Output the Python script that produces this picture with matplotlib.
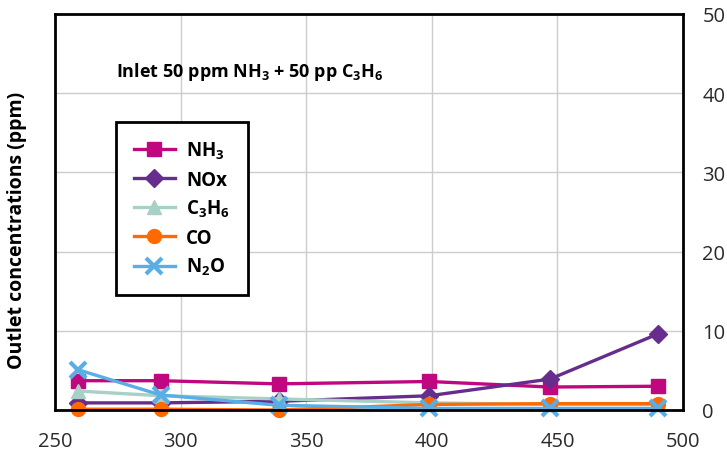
import matplotlib
matplotlib.use("Agg")
import matplotlib.pyplot as plt

plt.rcParams['font.family'] = ['Open Sans', 'DejaVu Sans']

# temperature points and outlet concentrations (ppm)
temps = [259, 292, 339, 399, 447, 490]
nh3 = [3.7, 3.7, 3.3, 3.6, 2.9, 3.0]
nox = [0.9, 0.9, 1.1, 1.8, 3.9, 9.6]
c3h6 = [2.4, 1.8, 1.4, 0.9, 0.7, 0.7]
co = [0.1, 0.1, 0.0, 0.7, 0.8, 0.8]
n2o = [5.1, 1.9, 0.6, 0.2, 0.2, 0.2]

series = [
    (nh3, r'$\mathregular{NH_3}$', '#C0077F', 's'),
    (nox, 'NOx', '#662D8C', 'D'),
    (c3h6, r'$\mathregular{C_3H_6}$', '#A8D0C6', '^'),
    (co, 'CO', '#FF6A00', 'o'),
    (n2o, r'$\mathregular{N_2O}$', '#5AAEE6', 'x'),
]

fig = plt.figure(figsize=(7.27, 4.52), dpi=100)
ax = fig.add_axes([55/727, 1-411/452, 628/727, 396/452])

for vals, lab, col, mk in series:
    ms = 10 if mk != 'x' else 11
    mew = 1 if mk != 'x' else 3
    if mk == 'D':
        ms = 9
    ax.plot(temps, vals, color=col, lw=2.4, marker=mk, ms=ms, mew=mew,
            mec=col, label=lab, clip_on=False)

ax.set_xlim(250, 500)
ax.set_ylim(0, 50)
ax.set_xticks([250, 300, 350, 400, 450, 500])
ax.set_yticks([0, 10, 20, 30, 40, 50])
ax.yaxis.tick_right()
ax.tick_params(length=0, labelsize=14.5, labelcolor='#2a2a2a')
ax.tick_params(axis='x', pad=15)
ax.tick_params(axis='y', pad=14)
ax.grid(True, color='#cccccc', lw=1)
ax.set_axisbelow(True)
for sp in ax.spines.values():
    sp.set_linewidth(2)
    sp.set_color('black')

ax.set_ylabel('Outlet concentrations (ppm)', fontsize=14, fontweight='bold')
ax.yaxis.set_label_position('left')
ax.yaxis.set_label_coords(-0.045, 0.455)

ax.text(0.097, 0.856, r'Inlet 50 ppm $\mathregular{NH_3}$ + 50 pp $\mathregular{C_3H_6}$',
        transform=ax.transAxes, fontsize=13, fontweight='bold', va='center')

leg = ax.legend(loc='upper left', bbox_to_anchor=(61/628, (411-123)/396),
                prop={'weight': 'bold', 'size': 13.5}, fancybox=False,
                edgecolor='black', framealpha=1, borderpad=0.95,
                labelspacing=0.45, handlelength=2.2, handletextpad=0.6,
                borderaxespad=0)
leg.get_frame().set_linewidth(2)

fig.savefig('out.png', dpi=100)
